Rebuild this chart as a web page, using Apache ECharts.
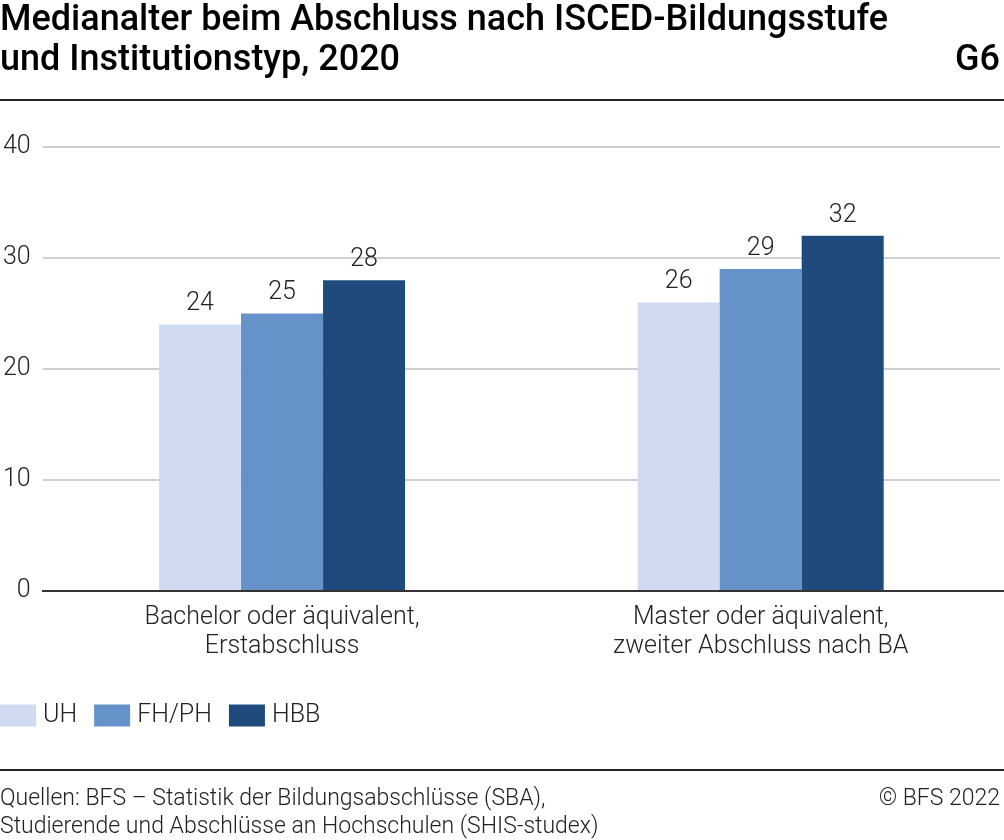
<!DOCTYPE html>
<html><head><meta charset="utf-8">
<script src="https://cdn.jsdelivr.net/npm/echarts@6/dist/echarts.min.js"></script>
<style>html,body{margin:0;padding:0;background:#fff}#c{width:1004px;height:840px}</style>
</head><body><div id="c"></div>
<script>
var categories = ['Bachelor oder äquivalent,\nErstabschluss', 'Master oder äquivalent,\nzweiter Abschluss nach BA'];
var seriesNames = ['UH', 'FH/PH', 'HBB'];
var valuesUH = [24, 26];
var valuesFHPH = [25, 29];
var valuesHBB = [28, 32];
var colors = ['#d0dbf1', '#6592c9', '#1f4a7c'];
var titleLines = 'Medianalter beim Abschluss nach ISCED-Bildungsstufe\nund Institutionstyp, 2020';
var sourceText = 'Quellen: BFS – Statistik der Bildungsabschlüsse (SBA),\nStudierende und Abschlüsse an Hochschulen (SHIS-studex)';

var font = 'Roboto';
var chart = echarts.init(document.getElementById('c'));
function mk(name, data, i) {
  return {
    name: name, type: 'bar', data: data, barWidth: 82, barGap: '0%',
    itemStyle: {color: colors[i]},
    label: {show: true, position: 'top', distance: 8, color: '#222', fontFamily: font, fontWeight: 300, fontSize: 25}
  };
}
chart.setOption({
  animation: false,
  textStyle: {fontFamily: font},
  grid: {left: 42, right: 4, top: 147, bottom: 249},
  legend: {
    left: 0, top: 703, padding: 0, itemWidth: 36, itemHeight: 22, itemGap: 17, icon: 'rect',
    textStyle: {fontFamily: font, fontWeight: 300, fontSize: 25, color: '#222', padding: [0,0,0,2]},
    data: seriesNames
  },
  xAxis: {
    type: 'category', data: categories,
    axisLine: {show: false}, axisTick: {show: false},
    axisLabel: {fontFamily: font, fontWeight: 300, fontSize: 25, color: '#222', lineHeight: 29, margin: 12}
  },
  yAxis: {
    type: 'value', min: 0, max: 40, interval: 10,
    axisLine: {show: false}, axisTick: {show: false},
    axisLabel: {fontFamily: font, fontWeight: 300, fontSize: 25, color: '#222', margin: 12},
    splitLine: {lineStyle: {color: '#d0d0d0', width: 2}}
  },
  series: [mk(seriesNames[0], valuesUH, 0), mk(seriesNames[1], valuesFHPH, 1), mk(seriesNames[2], valuesHBB, 2)],
  graphic: [
    {type: 'text', left: 0, top: 1, style: {text: titleLines, font: '500 36px Roboto', fill: '#000', lineHeight: 40}},
    {type: 'text', right: 4, top: 41, style: {text: 'G6', font: '500 36px Roboto', fill: '#000', lineHeight: 40}},
    {type: 'rect', shape: {x: 0, y: 99, width: 1004, height: 2}, style: {fill: '#222'}},
    {type: 'rect', shape: {x: 42, y: 590, width: 962, height: 2}, style: {fill: '#333'}, z: 10},
    {type: 'rect', shape: {x: 0, y: 769, width: 1004, height: 2}, style: {fill: '#222'}},
    {type: 'text', left: 0, top: 785, style: {text: sourceText, font: '300 23px Roboto', fill: '#222', lineHeight: 28}},
    {type: 'text', right: 4, top: 785, style: {text: '© BFS 2022', font: '300 23px Roboto', fill: '#222', lineHeight: 28}}
  ]
});
</script></body></html>
